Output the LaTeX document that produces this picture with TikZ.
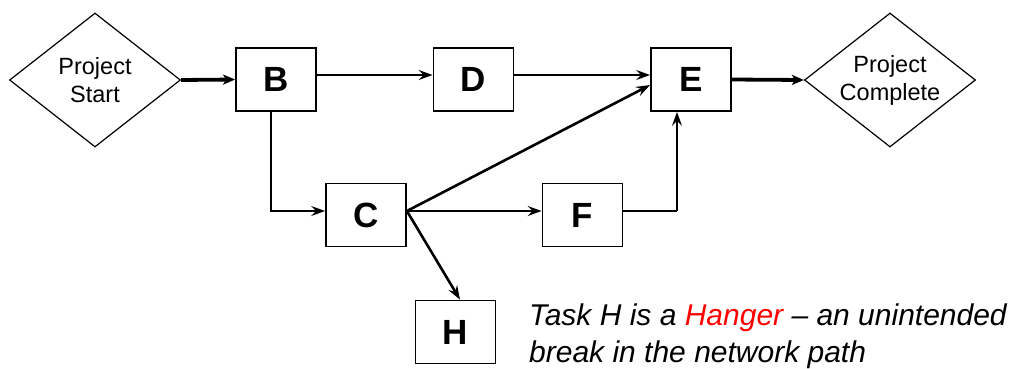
\documentclass[tikz,border=0pt]{standalone}
\usepackage{fontspec}
\setmainfont{Liberation Sans}
\usetikzlibrary{shapes.geometric,arrows.meta}
\definecolor{hangred}{RGB}{255,0,0}
\tikzset{
  task/.style={draw, line width=1.8pt, minimum width=80pt, minimum height=63pt, inner sep=0pt, font=\fontsize{35}{35}\selectfont\bfseries},
  milestone/.style={draw, diamond, line width=1.2pt, minimum width=171pt, minimum height=134pt, aspect=1.28, inner sep=0pt, align=center, font=\fontsize{23.5}{28}\selectfont},
  link/.style={line width=2.6pt, -{Stealth[length=14pt,width=10pt,inset=5pt]}},
  biglink/.style={line width=3.8pt, -{Stealth[length=12pt,width=10pt,inset=3pt]}},
}
\begin{document}
\begin{tikzpicture}[x=1pt,y=-1pt]
\useasboundingbox (0,0) rectangle (1013,368);
\node[milestone] (S) at (95,80) {Project\\Start};
\node[milestone] (P) at (890,80) {Project\\Complete};
\node[task] (B) at (276,79.5) {B};
\node[task] (D) at (473.5,79.5) {D};
\node[task] (E) at (691,79.5) {E};
\node[task] (C) at (366,215) {C};
\node[task] (F) at (582.5,215) {F};
\node[task] (H) at (455.5,332) {H};
\coordinate (bc) at ([xshift=-5pt]B.south |- C.west);
\coordinate (fe) at ([xshift=-14pt]E.south |- F.east);
\draw[biglink] (S.east) -- (B.west);
\draw[link] ([yshift=4.5pt]B.east) -- ([yshift=4.5pt]D.west);
\draw[link] ([yshift=4.5pt]D.east) -- ([yshift=4.5pt]E.west);
\draw[biglink] (E.east) -- (P.west);
\draw[link] ([xshift=-5pt]B.south) -- ([yshift=4pt]bc) -- ([yshift=4pt]C.west);
\draw[link] ([yshift=4pt]C.east) -- ([yshift=4pt]F.west);
\draw[link] ([yshift=4pt]C.east) -- ([yshift=-5.5pt]E.west);
\draw[link] ([yshift=4pt]C.east) -- ([xshift=4.5pt]H.north);
\draw[line width=1.5pt] ([yshift=4pt]F.east) -- ([yshift=4pt]fe);
\draw[link] ([yshift=4pt]fe) -- ([xshift=-14pt]E.south);
\node[anchor=base west, align=left, inner sep=0pt, font=\fontsize{30}{37}\selectfont\itshape] (note) at (529,362)
  {Task H is a \textcolor{hangred}{Hanger} -- an unintended\\break in the network path};
\end{tikzpicture}
\end{document}
